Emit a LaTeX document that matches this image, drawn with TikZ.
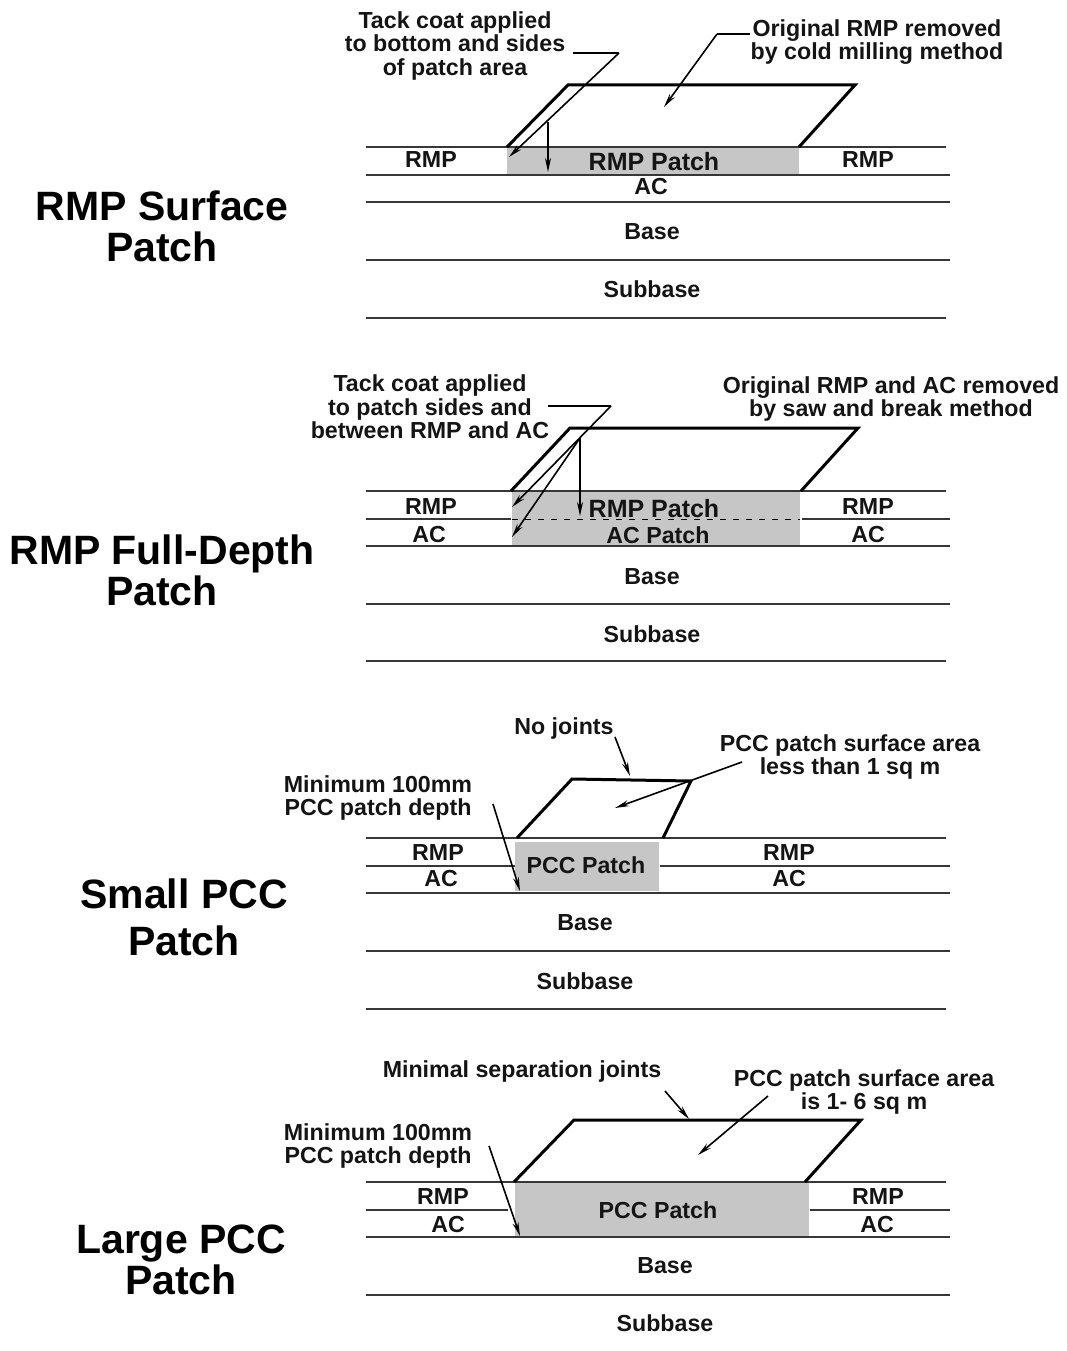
\documentclass[tikz,border=0pt]{standalone}
\usepackage{fontspec}
\setmainfont{Liberation Sans}[BoldFont={Liberation Sans Bold}]
\usetikzlibrary{arrows.meta,positioning,calc}
\definecolor{PatchGray}{RGB}{198,198,198}
\definecolor{InkBlack}{RGB}{20,20,20}
\tikzset{
  lbl/.style={inner sep=0pt,align=center,text=InkBlack,font=\fontsize{23.2}{23.7}\selectfont\bfseries},
  lblbig/.style={lbl,font=\fontsize{25}{26}\selectfont\bfseries},
  ttl/.style={inner sep=0pt,align=center,text=black,font=\fontsize{41}{41}\selectfont\bfseries},
  layer/.style={line width=1.4pt,InkBlack!85},
  patch/.style={fill=PatchGray,draw=none},
  rim/.style={line width=3pt,black,line join=miter},
  lead/.style={-{Stealth[length=14pt,width=6pt]},line width=1.6pt,black},
  leadthick/.style={lead,line width=2.2pt},
  seam/.style={dashed,dash pattern=on 6pt off 7pt,line width=1pt,black},
}
\begin{document}
\begin{tikzpicture}[x=1pt,y=-1pt]
  \useasboundingbox (0,0) rectangle (1067,1351);
  % RMP surface patch
  \node[ttl] (t1) at (162,226) {RMP Surface\\Patch};
  \fill[patch] (507,147) rectangle (799,175);
  \draw[layer] (366,147) -- (946,147);
  \draw[layer] (366,175) -- (950,175);
  \draw[layer,line width=1.8pt] (366,202) -- (950,202);
  \draw[layer] (366,260) -- (950,260);
  \draw[layer] (366,318) -- (946,318);
  \draw[rim] (507,147) -- (568,85) -- (855,85) -- (799,147);
  \node[lbl] (s1a) at (455,46) {Tack coat applied\\to bottom and sides\\of patch area};
  \node[lbl] (s1b) at (877,42) {Original RMP removed\\by cold milling method};
  \node[lbl] (s1c) at (431,160) {RMP};
  \node[lbl] (s1d) at (868,160) {RMP};
  \node[lblbig] (s1e) at (654,162) {RMP Patch};
  \node[lbl] (s1f) at (651,187) {AC};
  \node[lbl] (s1g) at (652,232) {Base};
  \node[lbl] (s1h) at (652,289) {Subbase};
  \coordinate (s1k) at (619,53);
  \coordinate (s1m) at (548,122);
  \coordinate (s1n) at (717,34);
  \draw[leadthick,-] (573,53) -- (s1k);
  \draw[lead] (s1k) -- (509,157);
  \draw[lead] (s1m) -- (548,172);
  \draw[leadthick,-] (750,34) -- (s1n);
  \draw[lead] (s1n) -- (664,107);
  % RMP full-depth patch
  \node[ttl] (t2) at (162,570) {RMP Full-Depth\\Patch};
  \fill[patch] (512,491) rectangle (800,546);
  \draw[layer] (366,491) -- (946,491);
  \draw[layer] (366,519) -- (511,519);
  \draw[layer] (802,519) -- (950,519);
  \draw[layer] (366,546) -- (950,546);
  \draw[layer,line width=1.8pt] (366,604) -- (950,604);
  \draw[layer] (366,661) -- (946,661);
  \draw[seam] (512,519) -- (800,519);
  \draw[rim] (511,491) -- (570,428) -- (858,428) -- (801,491);
  \node[lbl] (s2a) at (430,407) {Tack coat applied\\to patch sides and\\between RMP and AC};
  \node[lbl] (s2b) at (891,399) {Original RMP and AC removed\\by saw and break method};
  \node[lbl] (s2c) at (431,507) {RMP};
  \node[lbl] (s2d) at (868,507) {RMP};
  \node[lblbig] (s2e) at (654,509) {RMP Patch};
  \node[lbl] (s2f) at (429,535) {AC};
  \node[lbl] (s2g) at (868,535) {AC};
  \node[lbl] (s2h) at (658,535) {AC Patch};
  \node[lbl] (s2i) at (652,577) {Base};
  \node[lbl] (s2j) at (652,634) {Subbase};
  \coordinate (s2k) at (611,406);
  \coordinate (s2m) at (580,438);
  \draw[leadthick,-] (548,406) -- (s2k);
  \draw[lead] (s2k) -- (512,507);
  \draw[lead] (s2m) -- (512,537);
  \draw[lead] (s2m) -- (580,516);
  % small PCC patch
  \node[ttl] (t3) at (184,917) {Small PCC\\[6pt]Patch};
  \fill[patch] (515,842) rectangle (659,891);
  \draw[layer,line width=1.8pt] (366,838) -- (946,838);
  \draw[layer] (366,866) -- (515,866);
  \draw[layer] (660,866) -- (950,866);
  \draw[layer] (366,893) -- (950,893);
  \draw[layer] (366,951) -- (950,951);
  \draw[layer] (366,1009) -- (946,1009);
  \draw[rim] (517,838) -- (572,779) -- (691,781) -- (663,838);
  \node[lbl] (s3a) at (564,728) {No joints};
  \node[lbl] (s3b) at (850,757) {PCC patch surface area\\less than 1 sq m};
  \node[lbl] (s3c) at (378,798) {Minimum 100mm\\PCC patch depth};
  \node[lbl] (s3d) at (438,853) {RMP};
  \node[lbl] (s3e) at (789,853) {RMP};
  \node[lbl] (s3f) at (441,879) {AC};
  \node[lbl] (s3g) at (789,879) {AC};
  \node[lbl] (s3h) at (586,865) {PCC Patch};
  \node[lbl] (s3i) at (585,923) {Base};
  \node[lbl] (s3j) at (585,981) {Subbase};
  \coordinate (s3k) at (615,737);
  \coordinate (s3m) at (742,762);
  \coordinate (s3n) at (493,804);
  \draw[lead] (s3k) -- (630,776);
  \draw[lead] (s3m) -- (615,808);
  \draw[lead] (s3n) -- (520,891);
  % large PCC patch
  \node[ttl] (t4) at (181,1260) {Large PCC\\Patch};
  \fill[patch] (515,1183) rectangle (809,1236);
  \draw[layer] (366,1182) -- (946,1182);
  \draw[layer] (366,1210) -- (508,1210);
  \draw[layer] (810,1210) -- (950,1210);
  \draw[layer] (366,1237) -- (950,1237);
  \draw[layer] (366,1295) -- (950,1295);
  \draw[rim] (514,1182) -- (574,1120) -- (861,1120) -- (805,1182);
  \node[lbl] (s4a) at (522,1071) {Minimal separation joints};
  \node[lbl] (s4b) at (864,1092) {PCC patch surface area\\is 1- 6 sq m};
  \node[lbl] (s4c) at (378,1146) {Minimum 100mm\\PCC patch depth};
  \node[lbl] (s4d) at (443,1197) {RMP};
  \node[lbl] (s4e) at (878,1197) {RMP};
  \node[lbl] (s4f) at (448,1224) {AC};
  \node[lbl] (s4g) at (877,1224) {AC};
  \node[lbl] (s4h) at (658,1210) {PCC Patch};
  \node[lbl] (s4i) at (665,1266) {Base};
  \node[lbl] (s4j) at (665,1323) {Subbase};
  \coordinate (s4k) at (665,1091);
  \coordinate (s4m) at (768,1096);
  \coordinate (s4n) at (489,1146);
  \draw[lead] (s4k) -- (689,1119);
  \draw[lead] (s4m) -- (698,1155);
  \draw[lead] (s4n) -- (520,1236);
\end{tikzpicture}
\end{document}
